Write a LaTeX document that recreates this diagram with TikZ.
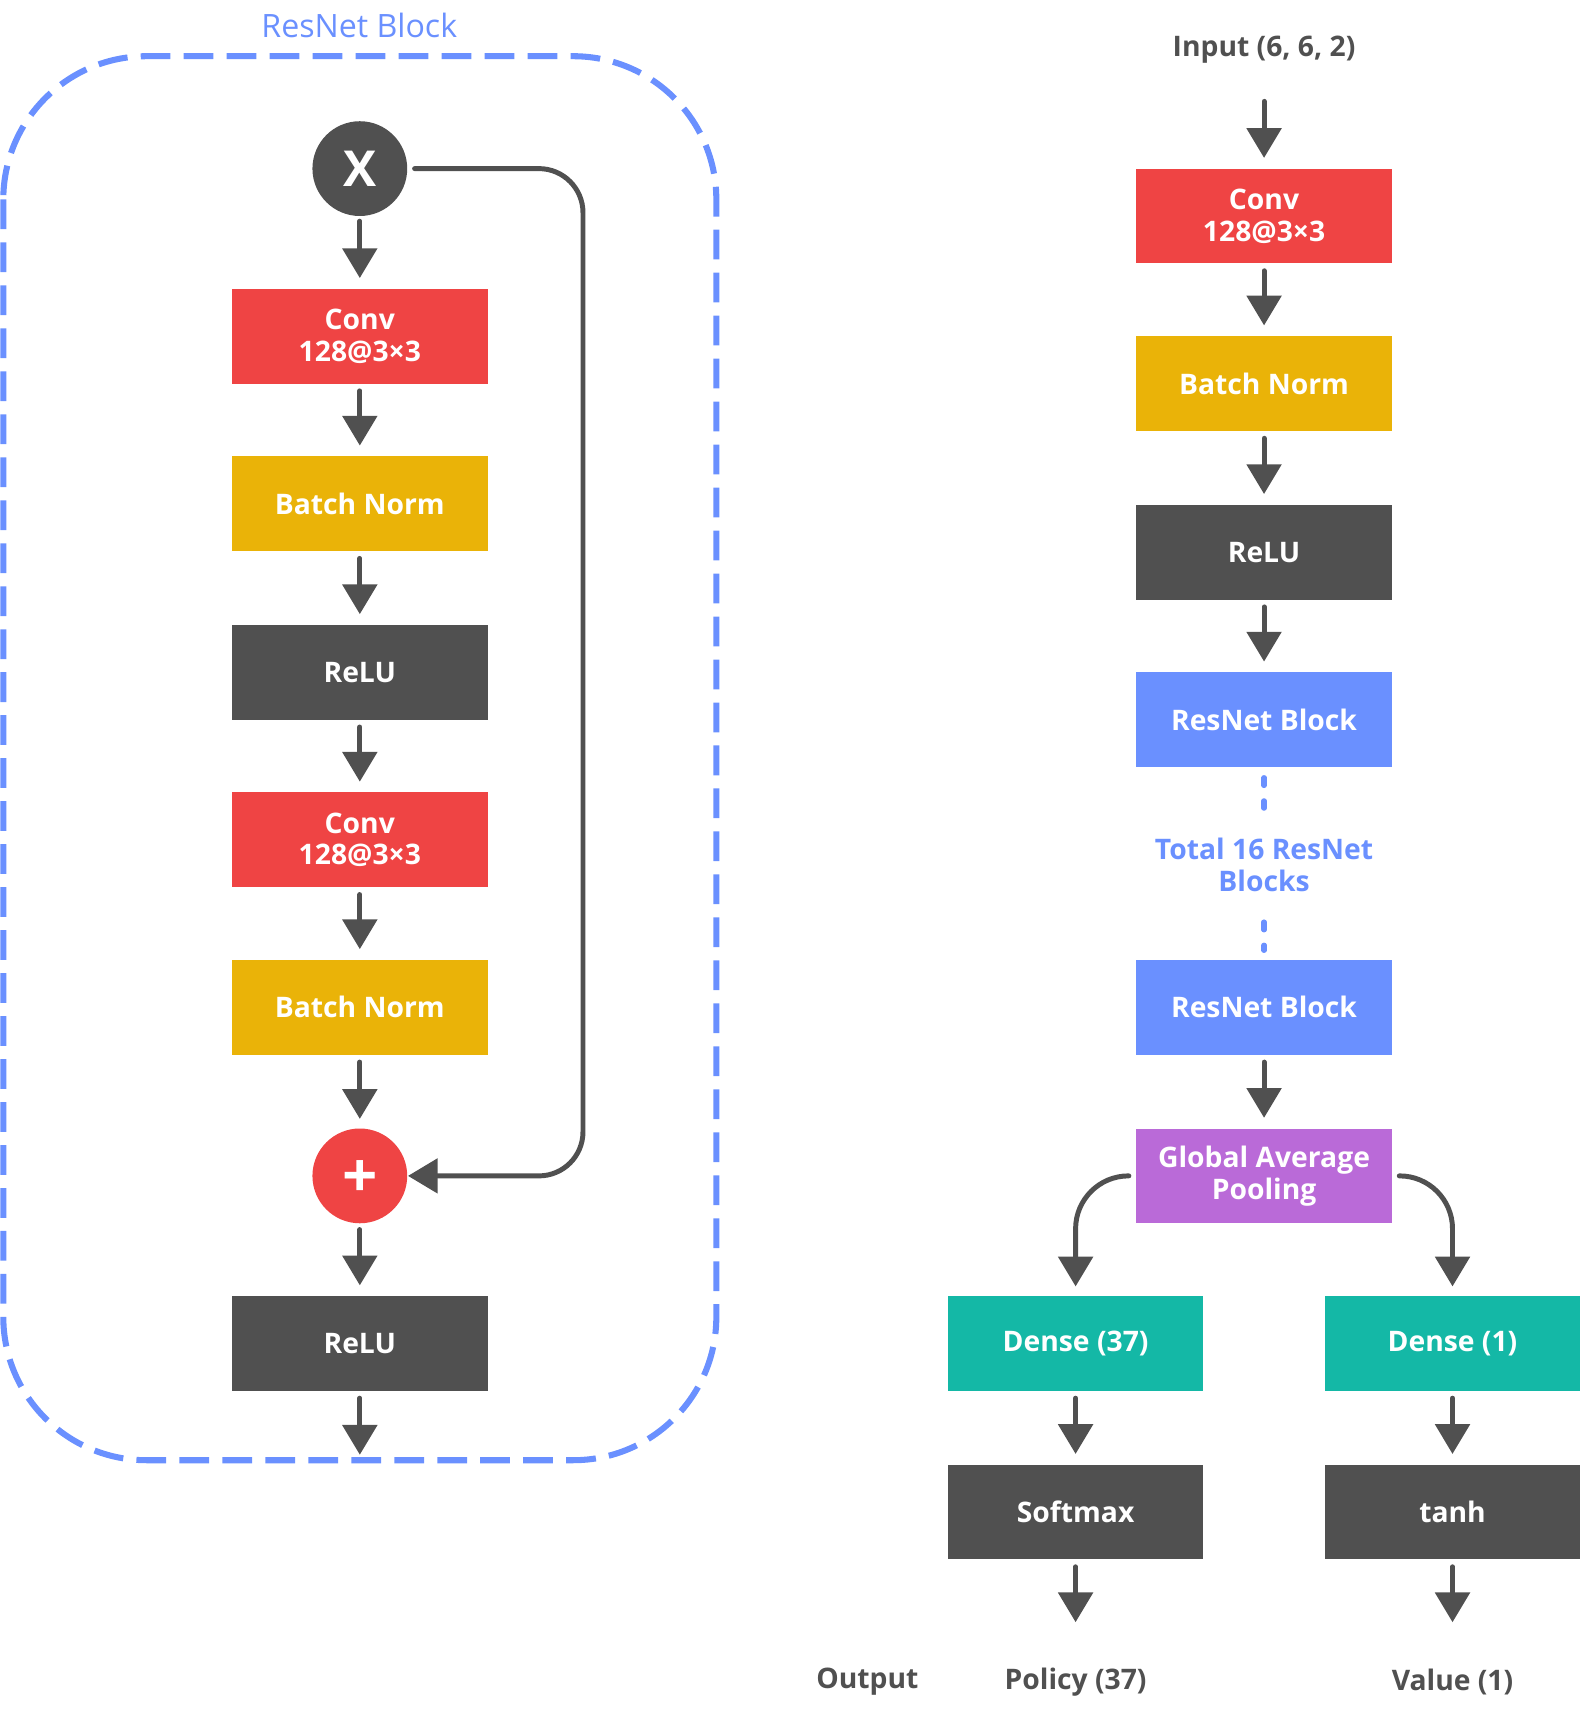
\documentclass[tikz,border=0pt]{standalone}
\usepackage{fontspec}
\setmainfont{Open Sans}
\usetikzlibrary{arrows.meta}

\definecolor{opdark}{HTML}{505050}
\definecolor{convred}{HTML}{EF4444}
\definecolor{normyellow}{HTML}{EAB308}
\definecolor{resblue}{HTML}{6A90FF}
\definecolor{poolpurple}{HTML}{BA6AD8}
\definecolor{denseteal}{HTML}{14B8A6}

\newcommand{\boxfont}{\fontsize{7.3}{8.2}\selectfont\bfseries}

\tikzset{
    layer/.style={minimum width=2.32cm,minimum height=0.86cm,inner sep=0pt,
        text=white,align=center,font=\boxfont},
    convbox/.style={layer,fill=convred},
    normbox/.style={layer,fill=normyellow},
    actbox/.style={layer,fill=opdark},
    resbox/.style={layer,fill=resblue},
    poolbox/.style={layer,fill=poolpurple},
    densebox/.style={layer,fill=denseteal},
    opnode/.style={circle,minimum size=0.86cm,inner sep=0pt,text=white},
    label/.style={inner sep=0pt,text=opdark,font=\boxfont},
    arr/.style={draw=opdark,line width=0.045cm,line cap=round,
        -{Triangle[width=0.31cm,length=0.27cm]},shorten <=0.06cm,shorten >=0.09cm},
    blockline/.style={draw=resblue,line width=0.055cm,dash pattern=on 0.27cm off 0.12cm,
        rounded corners=1.3cm},
    repeatline/.style={draw=resblue,line width=0.048cm,line cap=round,
        dash pattern=on 0.07cm off 0.14cm}
}

\begin{document}
\begin{tikzpicture}
        \useasboundingbox (0,0) rectangle (14.34,-15.68);
        %% ResNet block
        \draw[blockline] (0.03,-0.51) rectangle (6.50,-13.25);
        \node[inner sep=0pt,text=resblue,font=\fontsize{8.3}{10}\selectfont] (blocktitle) at (3.26,-0.23) {ResNet Block};
        \node[opnode,fill=opdark,font=\fontsize{12.8}{14}\selectfont\bfseries] (x) at (3.265,-1.53) {X};
        \node[convbox] (conv1) at (3.265,-3.05) {Conv\\128@3×3};
        \node[normbox] (bn1) at (3.265,-4.57) {Batch Norm};
        \node[actbox] (relu1) at (3.265,-6.10) {ReLU};
        \node[convbox] (conv2) at (3.265,-7.62) {Conv\\128@3×3};
        \node[normbox] (bn2) at (3.265,-9.14) {Batch Norm};
        \node[opnode,fill=convred,text height=0.4cm,text depth=0cm,font=\fontsize{16}{18}\selectfont\bfseries] (plus) at (3.265,-10.67) {+};
        \node[actbox] (relu2) at (3.265,-12.19) {ReLU};
        \coordinate (blockout) at (3.265,-13.20);
        \coordinate (skipcorner) at (5.29,-1.53);
        \draw[arr,shorten <=0.04cm] (x) -- (conv1);
        \draw[arr] (conv1) -- (bn1);
        \draw[arr] (bn1) -- (relu1);
        \draw[arr] (relu1) -- (conv2);
        \draw[arr] (conv2) -- (bn2);
        \draw[arr,shorten >=0.08cm] (bn2) -- (plus);
        \draw[arr,shorten <=0.05cm] (plus) -- (relu2);
        \draw[arr,shorten >=0pt] (relu2) -- (blockout);
        \draw[arr,rounded corners=0.4cm,shorten >=0pt] (x) -- (skipcorner) |- (plus);
        %% Network
        \node[label] (input) at (11.47,-0.45) {Input (6, 6, 2)};
        \node[convbox] (conv0) at (11.47,-1.96) {Conv\\128@3×3};
        \node[normbox] (bn0) at (11.47,-3.48) {Batch Norm};
        \node[actbox] (relu0) at (11.47,-5.01) {ReLU};
        \node[resbox] (res1) at (11.47,-6.53) {ResNet Block};
        \node[inner sep=0pt,minimum height=0.98cm,align=center,text=resblue,font=\boxfont] (total) at (11.47,-7.85) {Total 16 ResNet\\Blocks};
        \node[resbox] (res2) at (11.47,-9.14) {ResNet Block};
        \node[poolbox] (pool) at (11.47,-10.67) {Global Average\\Pooling};
        \draw[arr,shorten <=0.47cm] (input.center) -- (conv0);
        \draw[arr] (conv0) -- (bn0);
        \draw[arr] (bn0) -- (relu0);
        \draw[arr] (relu0) -- (res1);
        \draw[repeatline,shorten <=0.09cm,shorten >=0.02cm] (res1) -- (total);
        \draw[repeatline,shorten <=0.02cm,shorten >=0.08cm] (total) -- (res2);
        \draw[arr] (res2) -- (pool);
        %% Heads
        \node[densebox] (policydense) at (9.76,-12.19) {Dense (37)};
        \node[densebox] (valuedense) at (13.18,-12.19) {Dense (1)};
        \node[actbox] (softmax) at (9.76,-13.72) {Softmax};
        \node[actbox] (tanh) at (13.18,-13.72) {tanh};
        \node[label] (output) at (7.87,-15.26) {Output};
        \node[label] (policy) at (9.76,-15.26) {Policy (37)};
        \node[label] (value) at (13.18,-15.26) {Value (1)};
        \draw[arr,rounded corners=0.48cm,shorten >=0.08cm] (pool.west) -| (policydense);
        \draw[arr,rounded corners=0.48cm,shorten >=0.08cm] (pool.east) -| (valuedense);
        \draw[arr] (policydense) -- (softmax);
        \draw[arr] (valuedense) -- (tanh);
        \draw[arr,shorten >=0.54cm] (softmax) -- (policy.center);
        \draw[arr,shorten >=0.54cm] (tanh) -- (value.center);
    \end{tikzpicture}
\end{document}
